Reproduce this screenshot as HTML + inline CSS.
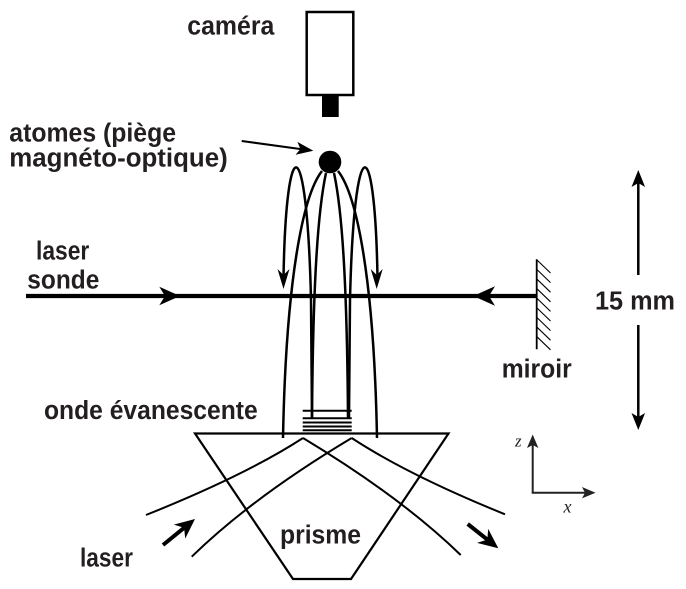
<!DOCTYPE html>
<html><head><meta charset="utf-8"><style>
html,body{margin:0;padding:0;background:#fff;}
svg{display:block;}
.t{font-family:"Liberation Sans",sans-serif;font-weight:bold;font-size:25.5px;fill:#231f20;}
.ax{font-family:"Liberation Serif",serif;font-style:italic;fill:#231f20;}
</style></head><body>
<svg width="686" height="589" viewBox="0 0 686 589" xmlns="http://www.w3.org/2000/svg">
<rect width="686" height="589" fill="#fff"/>
<!-- camera -->
<rect x="306.7" y="12" width="46.6" height="83" fill="#fff" stroke="#000" stroke-width="2.5"/>
<rect x="322" y="95" width="16.7" height="22" fill="#000"/>
<!-- texts -->
<text class="t" x="187.3" y="34.3" textLength="87" lengthAdjust="spacingAndGlyphs">caméra</text>
<text class="t" x="9.3" y="141.7" textLength="166.7" lengthAdjust="spacingAndGlyphs">atomes (piège</text>
<text class="t" x="9.3" y="166.7" textLength="218.4" lengthAdjust="spacingAndGlyphs">magnéto-optique)</text>
<text class="t" x="36" y="259.3" textLength="53.3" lengthAdjust="spacingAndGlyphs">laser</text>
<text class="t" x="27.3" y="288.3" textLength="72" lengthAdjust="spacingAndGlyphs">sonde</text>
<text class="t" x="595" y="309.3" textLength="80" lengthAdjust="spacingAndGlyphs">15 mm</text>
<text class="t" x="501.7" y="377.7" textLength="70" lengthAdjust="spacingAndGlyphs">miroir</text>
<text class="t" x="44" y="419" textLength="213.7" lengthAdjust="spacingAndGlyphs">onde évanescente</text>
<text class="t" x="280" y="543.3" textLength="81" lengthAdjust="spacingAndGlyphs">prisme</text>
<text class="t" x="80" y="566.7" textLength="53" lengthAdjust="spacingAndGlyphs">laser</text>
<text class="ax" x="515" y="446.7" font-size="17">z</text>
<text class="ax" x="563.5" y="512.5" font-size="18">x</text>

<!-- atom arrow -->
<line x1="241.7" y1="141" x2="301" y2="149.1" stroke="#000" stroke-width="2"/>
<path d="M313.3,150.7 L297.4,141.9 L300.4,149 L295.6,154.8 Z" fill="#000"/>
<!-- atom ball -->
<circle cx="330" cy="162" r="11.3" fill="#000"/>

<!-- field lines -->
<g fill="none" stroke="#000" stroke-width="2.5">
<path d="M283.5,278 C286,127 307,127 311,300 L312,418"/>
<path d="M377.5,278 C375,127 354,127 350,300 L349,418"/>
<path d="M322,171 C303,195 286,280 283,438"/>
<path d="M326,173 C318,210 313,280 312,418"/>
<path d="M338,171 C357,195 374,280 377,438"/>
<path d="M334,173 C342,210 347,280 348,418"/>
</g>
<path d="M283.5,289 L277.5,269 L283.5,275 L289.5,269 Z" fill="#000"/>
<path d="M376.7,289 L370.7,269 L376.7,275 L382.7,269 Z" fill="#000"/>

<!-- probe laser -->
<line x1="26" y1="296" x2="537" y2="296" stroke="#000" stroke-width="4.2"/>
<path d="M180,296 L159.3,286.7 L165,296 L159.3,305.3 Z" fill="#000"/>
<path d="M473.3,296 L495,286.3 L489,296 L495,305.7 Z" fill="#000"/>

<!-- mirror -->
<line x1="536.7" y1="259.3" x2="536.7" y2="349.3" stroke="#000" stroke-width="1.8"/>
<g stroke="#000" stroke-width="1.1">
<line x1="537" y1="260" x2="550.5" y2="273"/>
<line x1="537" y1="269.6" x2="550.5" y2="282.6"/>
<line x1="537" y1="279.2" x2="550.5" y2="292.2"/>
<line x1="537" y1="288.8" x2="550.5" y2="301.8"/>
<line x1="537" y1="298.4" x2="550.5" y2="311.4"/>
<line x1="537" y1="308" x2="550.5" y2="321"/>
<line x1="537" y1="317.6" x2="550.5" y2="330.6"/>
<line x1="537" y1="327.2" x2="550.5" y2="340.2"/>
<line x1="537" y1="336.8" x2="550.5" y2="349.8"/>
</g>

<!-- 15 mm arrow -->
<g stroke="#000" stroke-width="2.5">
<line x1="638.3" y1="180" x2="638.3" y2="275"/>
<line x1="638.3" y1="325" x2="638.3" y2="420"/>
</g>
<path d="M638.3,170 L631.5,187 L638.3,183 L645.1,187 Z" fill="#000"/>
<path d="M638.3,430 L631.5,413 L638.3,417 L645.1,413 Z" fill="#000"/>

<!-- evanescent wave -->
<g stroke="#000" stroke-width="2">
<line x1="302.7" y1="410.7" x2="351.7" y2="410.7"/>
<line x1="302.7" y1="418.3" x2="351.7" y2="418.3"/>
<line x1="302.7" y1="422.5" x2="351.7" y2="422.5"/>
<line x1="302.7" y1="426.5" x2="351.7" y2="426.5"/>
<line x1="302.7" y1="430.3" x2="351.7" y2="430.3"/>
</g>

<!-- prism -->
<path d="M195,433.5 L448.5,433.5 L351,579 L293,579 Z" fill="none" stroke="#000" stroke-width="2.2" stroke-linejoin="miter"/>

<!-- beams -->
<g fill="none" stroke="#000" stroke-width="2">
<path d="M146,515 Q246,475 303,438"/>
<path d="M303,438 Q401,497 460.7,555"/>
<path d="M191.7,556.7 Q253,497 351.7,438"/>
<path d="M351.7,438 Q408,475 505,514.3"/>
</g>

<!-- laser arrows -->
<line x1="163" y1="545" x2="184.1" y2="527.8" stroke="#000" stroke-width="4"/>
<path d="M195,519 L173.8,524.6 L184.1,527.8 L185.2,538.6 Z" fill="#000"/>
<line x1="467.7" y1="524" x2="487.3" y2="539.6" stroke="#000" stroke-width="4"/>
<path d="M498.3,548.3 L488.2,528.9 L487.3,539.6 L477,542.9 Z" fill="#000"/>

<!-- axes -->
<g stroke="#222" stroke-width="2" fill="none">
<line x1="532.7" y1="443" x2="532.7" y2="492.7"/>
<line x1="531.7" y1="492.7" x2="586" y2="492.7"/>
</g>
<path d="M532.7,434.5 L527,448 L532.7,445 L538.4,448 Z" fill="#222"/>
<path d="M595.5,492.7 L582,487 L585,492.7 L582,498.4 Z" fill="#222"/>
</svg>
</body></html>
